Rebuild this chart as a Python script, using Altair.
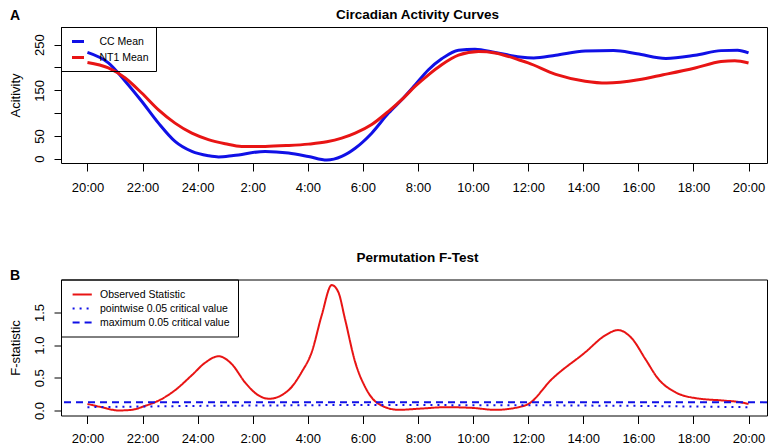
import altair as alt
import pandas as pd

FONT = "Liberation Sans"
BLUE = "#1010e6"
RED = "#e81414"

TICK_HOURS = [0, 2, 4, 6, 8, 10, 12, 14, 16, 18, 20, 22, 24]
TICK_LABELS = ["20:00", "22:00", "24:00", "2:00", "4:00", "6:00", "8:00",
               "10:00", "12:00", "14:00", "16:00", "18:00", "20:00"]

SERIES_A = ["CC Mean", "NT1 Mean"]
SERIES_B = ["Observed Statistic", "pointwise 0.05 critical value", "maximum 0.05 critical value"]
PANEL_LETTERS = ["A", "B"]
TITLES = ["Circadian Activity Curves", "Permutation F-Test"]

CC_HOURS = [0, 0.76, 1.37, 1.97, 2.58, 3.18, 3.79, 4.39, 4.76, 5.3, 6.45, 7.3, 8.02, 8.69,
            9.23, 9.72, 10.32, 10.93, 11.47, 11.9, 12.38, 12.86, 13.47, 14.07, 14.8, 15.7,
            16.2, 17.0, 18.07, 19.1, 19.95, 21.0, 22.06, 23.0, 23.6, 24]
CC_VALUES = [233, 210, 170, 126, 78, 38, 16, 6.6, 4, 7, 16, 12.5, 5, -3,
             5, 23, 56, 100, 133, 162, 195, 219, 238, 240, 233, 223,
             221, 227, 236, 237, 230, 220, 227, 237, 238, 232]

NT1_HOURS = [0, 0.76, 1.37, 1.97, 2.58, 3.18, 3.79, 4.39, 5.0, 5.6, 6.45, 7.3, 8.02, 8.69,
             9.23, 9.72, 10.32, 10.93, 11.47, 11.9, 12.38, 12.86, 13.47, 14.2, 14.8, 15.7,
             16.0, 17.0, 18.07, 18.85, 20.0, 20.9, 22.06, 23.0, 23.5, 24]
NT1_VALUES = [211, 199, 177, 144, 107, 78, 56, 42, 33, 27, 27, 29, 32, 37,
              45, 56, 75, 104, 133, 159, 184, 206, 227, 235, 232, 216,
              210, 185, 170, 166, 173, 184, 199, 213, 215, 210]

F_HOURS = [0, 0.52, 1.13, 1.61, 2.09, 2.58, 3.18, 3.79, 4.27, 4.76, 5.24, 5.72, 6.21, 6.6,
           7.3, 7.78, 8.14, 8.5, 8.87, 9.11, 9.35, 9.72, 10.08, 10.57, 11.29, 12.14, 12.99,
           13.95, 14.8, 15.65, 16.01, 16.86, 18.07, 18.8, 19.26, 19.77, 20.25, 20.73, 21.34,
           22.06, 23.15, 23.64, 24]
F_VALUES = [0.10, 0.05, 0.00, 0.01, 0.07, 0.15, 0.31, 0.54, 0.73, 0.83, 0.71, 0.43, 0.23, 0.18,
            0.31, 0.59, 0.89, 1.45, 1.92, 1.81, 1.40, 0.74, 0.36, 0.10, 0.01, 0.03, 0.05,
            0.04, 0.01, 0.05, 0.10, 0.48, 0.89, 1.15, 1.23, 1.10, 0.79, 0.48, 0.28,
            0.19, 0.15, 0.13, 0.10]

PW_HOURS = [0, 2, 4, 6, 8, 10, 12, 14, 16, 18, 20, 22, 24]
PW_VALUES = [0.05, 0.06, 0.07, 0.075, 0.08, 0.085, 0.085, 0.08, 0.08, 0.075, 0.07, 0.06, 0.05]

MAX_CRIT = [0.125]

W, H = 706, 136


def x_enc(label_padding):
    axis = alt.Axis(values=TICK_HOURS, labelExpr="%s[datum.value/2]" % str(TICK_LABELS),
                    title=None, tickSize=8, labelPadding=label_padding, labelFlush=False,
                    labelOverlap=False)
    return alt.X("hour:Q", scale=alt.Scale(domain=[-0.96, 24.67], nice=False, zero=False),
                 axis=axis)


def headings(idx, letter_y, title_y):
    df = pd.DataFrame({"letter": [PANEL_LETTERS[idx]], "title": [TITLES[idx]]})
    base = alt.Chart(df)
    let = base.mark_text(
        font=FONT, fontSize=14, fontWeight="bold", align="left", baseline="alphabetic",
        color="black"
    ).encode(text="letter:N", x=alt.value(-51), y=alt.value(letter_y))
    tit = base.mark_text(
        font=FONT, fontSize=13.5, fontWeight="bold", align="center", baseline="alphabetic",
        color="black"
    ).encode(text="title:N", x=alt.value(356.5), y=alt.value(title_y))
    return [let, tit]


# ---- Panel A ----
dfA = pd.concat([
    pd.DataFrame({"hour": CC_HOURS, "value": CC_VALUES, "series": SERIES_A[0]}),
    pd.DataFrame({"hour": NT1_HOURS, "value": NT1_VALUES, "series": SERIES_A[1]}),
])

lineA = alt.Chart(dfA).mark_line(strokeWidth=3, interpolate="monotone").encode(
    x=x_enc(10),
    y=alt.Y("value:Q", scale=alt.Scale(domain=[-9.4, 288.8], nice=False, zero=False),
            axis=alt.Axis(values=[0, 50, 100, 150, 200, 250], title="Acitivity",
                          labelExpr="(datum.value==100||datum.value==200) ? '' : datum.label",
                          tickSize=7, labelAngle=270, labelAlign="center",
                          labelBaseline="bottom", labelPadding=8, titlePadding=11,
                          labelOverlap=False)),
    color=alt.Color("series:N", scale=alt.Scale(domain=SERIES_A, range=[BLUE, RED]),
                    legend=alt.Legend(title=None, orient="top-left", offset=0, padding=7,
                                      strokeColor="black", symbolType="stroke",
                                      symbolSize=144, symbolStrokeWidth=3,
                                      symbolOffset=2.5, labelOffset=14,
                                      labelFont=FONT, labelFontSize=10.5,
                                      labelColor="black", rowPadding=2)),
)

panelA = alt.layer(lineA, *headings(0, -7, -8)).properties(width=W, height=H)

# ---- Panel B ----
dfF = pd.DataFrame({"hour": F_HOURS, "value": F_VALUES, "series": SERIES_B[0]})
dfP = pd.DataFrame({"hour": PW_HOURS, "value": PW_VALUES, "series": SERIES_B[1]})
dfM = pd.DataFrame({"value": MAX_CRIT, "series": SERIES_B[2]})

legendB = alt.Legend(title=None, orient="top-left", offset=0, padding=8,
                     strokeColor="black", symbolType="M-1.6,0H1.6",
                     symbolSize=144, symbolStrokeWidth=2,
                     symbolOffset=6.2, labelOffset=10.8,
                     labelFont=FONT, labelFontSize=10.5,
                     labelColor="black", rowPadding=1)

yB = alt.Y("value:Q", scale=alt.Scale(domain=[-0.077, 2.005], nice=False, zero=False),
           axis=alt.Axis(values=[0, 0.5, 1.0, 1.5], format=".1f", title="F-statistic",
                         tickSize=7, labelAngle=270, labelAlign="center",
                         labelBaseline="bottom", labelPadding=8, titlePadding=11,
                         labelOverlap=False))
colorB = alt.Color("series:N", scale=alt.Scale(domain=SERIES_B, range=[RED, BLUE, BLUE]),
                   legend=legendB)
dashB = alt.StrokeDash("series:N", scale=alt.Scale(domain=SERIES_B,
                                                   range=[[1, 0], [2, 5], [7, 5]]),
                       legend=legendB)

xB = x_enc(8.5)
obs = alt.Chart(dfF).mark_line(strokeWidth=2, interpolate="monotone").encode(
    x=xB, y=yB, color=colorB, strokeDash=dashB)
pw = alt.Chart(dfP).mark_line(strokeWidth=2, interpolate="monotone").encode(
    x=xB, y=yB, color=colorB, strokeDash=dashB)
mx = alt.Chart(dfM).mark_rule(strokeWidth=2).encode(
    y=yB, color=colorB, strokeDash=dashB)

panelB = alt.layer(obs, pw, mx, *headings(1, 0.7, -17.5)).properties(width=W, height=H)

chart = alt.vconcat(panelA, panelB, spacing=55.5).resolve_scale(
    color="independent", strokeDash="independent"
).resolve_legend(
    color="independent", strokeDash="independent"
).properties(
    padding={"left": 0, "top": -1, "right": 0, "bottom": 0}
).configure_view(
    stroke="black", strokeWidth=1
).configure_axis(
    domain=False, grid=False, tickColor="black", tickWidth=1,
    labelFont=FONT, labelFontSize=13, labelColor="black",
    titleFont=FONT, titleFontSize=13, titleFontWeight="normal", titleColor="black",
)

chart.save("out.html", embed_options={"renderer": "svg", "actions": False})
